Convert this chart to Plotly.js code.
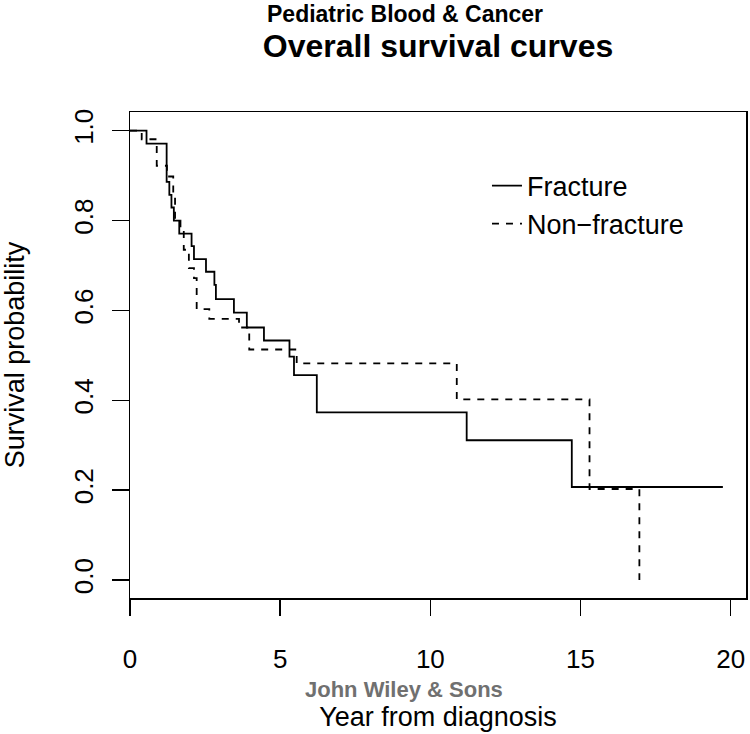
<!DOCTYPE html>
<html>
<head>
<meta charset="utf-8">
<script src="https://cdn.plot.ly/plotly-3.0.1.min.js"></script>
<style>html,body{margin:0;padding:0;background:#fff;}#chart{width:750px;height:734px;}</style>
</head>
<body>
<div id="chart"></div>
<script>
// Kaplan-Meier step curves (event times in years, survival probability after each step)
var fractureTime = [0, 0.55, 1.22, 1.31, 1.38, 1.46, 1.64, 2.05, 2.13, 2.53, 2.81, 2.86, 3.46, 3.89, 4.46, 5.31, 5.46, 6.22, 11.21, 14.71, 19.74];
var fractureSurv = [1, 0.971, 0.886, 0.857, 0.829, 0.800, 0.771, 0.743, 0.714, 0.686, 0.657, 0.625, 0.595, 0.562, 0.533, 0.497, 0.456, 0.373, 0.311, 0.207, 0.207];

var nonFractureTime = [0, 0.39, 0.89, 1.23, 1.44, 1.50, 1.68, 1.79, 1.96, 2.13, 2.22, 2.64, 3.63, 3.97, 5.55, 10.88, 15.30, 16.96];
var nonFractureSurv = [1, 0.981, 0.922, 0.898, 0.860, 0.800, 0.775, 0.735, 0.694, 0.672, 0.603, 0.581, 0.562, 0.513, 0.482, 0.402, 0.2025, 0];

var seriesNames = ["Fracture", "Non\u2212fracture"];
var xTicks = [0, 5, 10, 15, 20];
var yTicks = [0, 0.2, 0.4, 0.6, 0.8, 1.0];
var yTickText = ["0.0", "0.2", "0.4", "0.6", "0.8", "1.0"];

var FONT = "Liberation Sans, Arial, Helvetica, sans-serif";

var traces = [
  {x: fractureTime, y: fractureSurv, name: seriesNames[0], type: "scatter", mode: "lines",
   line: {shape: "hv", color: "#000", width: 1.8}},
  {x: nonFractureTime, y: nonFractureSurv, name: seriesNames[1], type: "scatter", mode: "lines",
   line: {shape: "hv", color: "#000", width: 1.8, dash: "7px,7px"}}
];

var layout = {
  width: 750, height: 734,
  margin: {l: 130, r: 4, t: 112, b: 136},
  paper_bgcolor: "#fff", plot_bgcolor: "#fff",
  font: {family: FONT, color: "#000", size: 26},
  title: {text: "Overall survival curves", font: {family: FONT, size: 32, weight: "bold", color: "#000"},
          xref: "paper", x: 0.5, xanchor: "center", yref: "container", y: 1 - 46/734, yanchor: "middle"},
  showlegend: true,
  legend: {x: 0.5795, xanchor: "left", y: 0.898, yanchor: "top", bgcolor: "rgba(0,0,0,0)",
           font: {family: FONT, size: 27, color: "#000"}, tracegroupgap: 0},
  xaxis: {range: [0, 20.51], tickvals: xTicks, ticktext: xTicks.map(String),
          ticks: "outside", ticklen: 16, tickwidth: 1.5, tickcolor: "#000",
          showline: true, mirror: true, linecolor: "#000", linewidth: 1.5,
          showgrid: false, zeroline: false, ticklabelstandoff: 21,
          tickfont: {family: FONT, size: 26, color: "#000"},
          title: {text: "Year from diagnosis", font: {family: FONT, size: 27, color: "#000"}, standoff: 34}},
  yaxis: {range: [-0.04006, 1.0416], tickvals: yTicks, ticktext: yTickText, tickangle: -90,
          ticks: "outside", ticklen: 17, tickwidth: 1.5, tickcolor: "#000",
          showline: true, mirror: true, linecolor: "#000", linewidth: 1.5,
          showgrid: false, zeroline: false, ticklabelstandoff: 8,
          tickfont: {family: FONT, size: 26, color: "#000"},
          title: {text: "Survival probability", font: {family: FONT, size: 27, color: "#000"}, standoff: 37}},
  annotations: [
    {text: "Pediatric Blood & Cancer", xref: "paper", yref: "paper", x: (265-130)/616, y: (598-14)/486,
     xanchor: "left", yanchor: "middle", showarrow: false,
     font: {family: FONT, size: 23, weight: "bold", color: "#000"}},
    {text: "John Wiley & Sons", xref: "paper", yref: "paper", x: (404-130)/616, y: (598-689)/486,
     xanchor: "center", yanchor: "middle", showarrow: false,
     font: {family: FONT, size: 22, weight: "bold", color: "#707070"}}
  ]
};

Plotly.newPlot("chart", traces, layout, {staticPlot: true, displayModeBar: false});
</script>
</body>
</html>
